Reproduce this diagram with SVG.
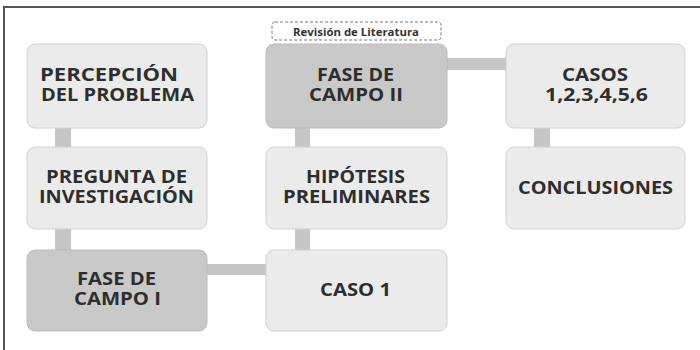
<svg xmlns="http://www.w3.org/2000/svg" width="700" height="350" viewBox="0 0 700 350">
<style>
.light{fill:#ebebeb;stroke:#d2d2d2;stroke-width:1}
.dark{fill:#c9c9c9;stroke:#bdbdbd;stroke-width:1}
.lbl{font-family:"Open Sans","DejaVu Sans",sans-serif;font-weight:bold;font-size:17px;fill:#2e2e2e;text-anchor:middle}
.small{font-family:"Open Sans","DejaVu Sans",sans-serif;font-weight:bold;font-size:10.5px;fill:#333;text-anchor:middle}
.conn{fill:#c6c6c6}
</style>
<rect x="0" y="0" width="700" height="350" fill="#ffffff"/>
<path d="M4 350 V7 H700" fill="none" stroke="#555" stroke-width="2"/>
<g id="connectors">
<rect class="conn" x="55" y="128" width="16" height="19"/>
<rect class="conn" x="55" y="229" width="16" height="21"/>
<rect class="conn" x="207" y="264" width="59" height="11"/>
<rect class="conn" x="295" y="229" width="15" height="21"/>
<rect class="conn" x="295" y="128" width="15" height="19"/>
<rect class="conn" x="447" y="58" width="59" height="12"/>
<rect class="conn" x="534" y="128" width="16" height="19"/>
</g>
<g id="revision">
<rect x="272" y="22" width="169" height="18" rx="3" fill="#fff" stroke="#777" stroke-width="1" stroke-dasharray="3,2"/>
<text class="small" x="356" y="35.5" textLength="126" lengthAdjust="spacingAndGlyphs">Revisión de Literatura</text>
</g>
<g id="percepcion">
<rect class="light" x="27" y="44" width="180" height="84" rx="8"/>
<text class="lbl" x="109" y="81" textLength="138" lengthAdjust="spacingAndGlyphs">PERCEPCIÓN</text>
<text class="lbl" x="117.5" y="101" textLength="153" lengthAdjust="spacingAndGlyphs">DEL PROBLEMA</text>
</g>
<g id="pregunta">
<rect class="light" x="27" y="147" width="180" height="82" rx="8"/>
<text class="lbl" x="116.5" y="183" textLength="141" lengthAdjust="spacingAndGlyphs">PREGUNTA DE</text>
<text class="lbl" x="116.5" y="203" textLength="155" lengthAdjust="spacingAndGlyphs">INVESTIGACIÓN</text>
</g>
<g id="fase1">
<rect class="dark" x="27" y="250" width="180" height="81" rx="8"/>
<text class="lbl" x="116.5" y="285" textLength="79" lengthAdjust="spacingAndGlyphs">FASE DE</text>
<text class="lbl" x="117.5" y="305" textLength="87" lengthAdjust="spacingAndGlyphs">CAMPO I</text>
</g>
<g id="fase2">
<rect class="dark" x="266" y="44" width="181" height="84" rx="8"/>
<text class="lbl" x="355.5" y="81" textLength="77" lengthAdjust="spacingAndGlyphs">FASE DE</text>
<text class="lbl" x="356" y="101" textLength="94" lengthAdjust="spacingAndGlyphs">CAMPO II</text>
</g>
<g id="hipotesis">
<rect class="light" x="266" y="147" width="181" height="82" rx="8"/>
<text class="lbl" x="355.5" y="183" textLength="99" lengthAdjust="spacingAndGlyphs">HIPÓTESIS</text>
<text class="lbl" x="356.5" y="203" textLength="147" lengthAdjust="spacingAndGlyphs">PRELIMINARES</text>
</g>
<g id="caso1">
<rect class="light" x="266" y="250" width="181" height="81" rx="8"/>
<text class="lbl" x="355.5" y="296" textLength="71" lengthAdjust="spacingAndGlyphs">CASO 1</text>
</g>
<g id="casos">
<rect class="light" x="506" y="44" width="179" height="84" rx="8"/>
<text class="lbl" x="595" y="81" textLength="66" lengthAdjust="spacingAndGlyphs">CASOS</text>
<text class="lbl" x="596.5" y="101" textLength="103" lengthAdjust="spacingAndGlyphs">1,2,3,4,5,6</text>
</g>
<g id="conclusiones">
<rect class="light" x="506" y="147" width="179" height="82" rx="8"/>
<text class="lbl" x="595.5" y="194" textLength="155" lengthAdjust="spacingAndGlyphs">CONCLUSIONES</text>
</g>
</svg>
